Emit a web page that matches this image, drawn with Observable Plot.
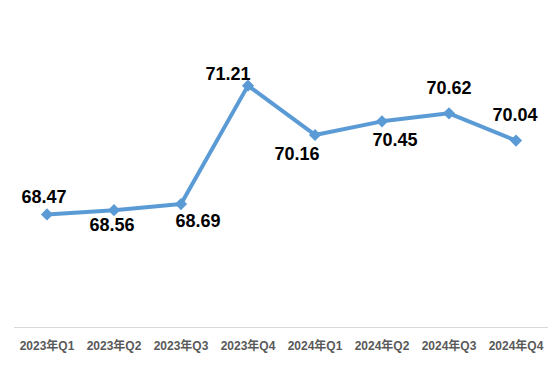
<!DOCTYPE html>
<html>
<head>
<meta charset="utf-8">
<script src="https://cdn.jsdelivr.net/npm/d3@7"></script>
<script src="https://cdn.jsdelivr.net/npm/@observablehq/plot@0.6"></script>
<style>
  html, body { margin: 0; padding: 0; background: #fff; }
  #chart { width: 558px; height: 365px; }
</style>
</head>
<body>
<div id="chart"></div>
<script>
// Data
const quarters = ["2023年Q1", "2023年Q2", "2023年Q3", "2023年Q4", "2024年Q1", "2024年Q2", "2024年Q3", "2024年Q4"];
const values = [68.47, 68.56, 68.69, 71.21, 70.16, 70.45, 70.62, 70.04];
const labelText = ["68.47", "68.56", "68.69", "71.21", "70.16", "70.45", "70.62", "70.04"];

// Layout: label offsets (pixels) relative to each point
const labelDx = [-3, -2, 17, -20, -18, 13, 0, -1];
const labelDy = [-17, 15, 17, -11, 19, 19, -25, -25];

const rows = quarters.map((q, i) => ({q, v: values[i], t: labelText[i], dx: labelDx[i], dy: labelDy[i]}));

const blue = "#5B9BD5";

const chart = Plot.plot({
  width: 558,
  height: 365,
  marginLeft: 12,
  marginRight: 9,
  marginTop: 48,
  marginBottom: 35,
  style: {background: "#fff", overflow: "visible"},
  x: {type: "band", domain: quarters, padding: 0, axis: null},
  y: {domain: [66, 72], axis: null},
  marks: [
    Plot.ruleY([66], {stroke: "#D9D9D9", strokeWidth: 1, dy: -3, insetLeft: 2, insetRight: 1}),
    Plot.axisX({
      anchor: "bottom",
      label: null,
      tickSize: 0,
      tickPadding: 11,
      fontSize: 12,
      fontWeight: "bold",
      fill: "#595959",
      fontFamily: "'Liberation Sans', 'Noto Sans CJK SC', sans-serif"
    }),
    Plot.line(rows, {x: "q", y: "v", stroke: blue, strokeWidth: 4, strokeLinejoin: "round"}),
    Plot.dot(rows, {x: "q", y: "v", symbol: "diamond2", r: 5.5, fill: blue, stroke: "none"}),
    ...rows.map(d => Plot.text([d], {
      x: "q", y: "v", text: "t", dx: d.dx, dy: d.dy,
      fontSize: 18, fontWeight: "bold", fill: "#000",
      fontFamily: "'Liberation Sans', Arial, sans-serif"
    }))
  ]
});
document.getElementById("chart").append(chart);
</script>
</body>
</html>
